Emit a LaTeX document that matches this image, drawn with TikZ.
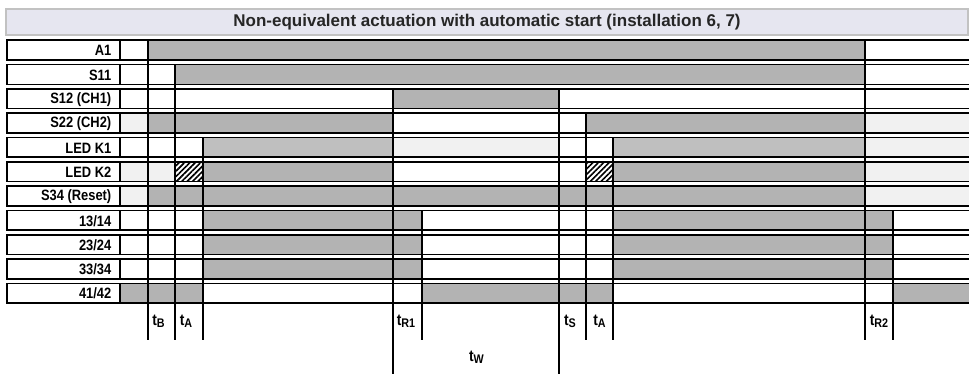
\documentclass[tikz,border=0pt]{standalone}
\usepackage{fontspec}
\setmainfont{Liberation Sans}
\newfontfamily\narrowfont[FakeStretch=0.86]{Liberation Sans}
\usetikzlibrary{patterns.meta}
\definecolor{sigdark}{RGB}{179,179,179}
\definecolor{sigled}{RGB}{191,191,191}
\definecolor{siglight}{RGB}{241,241,241}
\definecolor{titlefill}{RGB}{230,230,240}
\definecolor{titleline}{RGB}{194,194,194}
\newcommand{\tsub}[1]{t\raisebox{-0.12em}{\fontsize{12.5}{13}\selectfont #1}}

\begin{document}
\begin{tikzpicture}[x=1pt, y=-1pt,
    titlebar/.style={draw=titleline, line width=2pt, fill=titlefill, minimum width=962pt, minimum height=26pt, inner sep=0pt, font=\bfseries\fontsize{17}{19}\selectfont, text=black!85},
    rowlabel/.style={anchor=east, inner sep=0pt, font=\narrowfont\bfseries\fontsize{15}{16}\selectfont},
    timelabel/.style={inner sep=0pt, font=\narrowfont\bfseries\fontsize{16}{17}\selectfont},
    rowline/.style={line width=1.6pt},
    hatched/.style={pattern={Lines[angle=45, distance=3.8pt, line width=1.6pt]}}]
    \useasboundingbox (0,0) rectangle (969,374);

    \node[titlebar] (title) at (487,22.5) {Non-equivalent actuation with automatic start (installation 6, 7)};

    % signal levels: row/from/to/colour
    \foreach \r/\a/\b/\c in {0/148/865/sigdark, 1/175/865/sigdark, 2/393/559/sigdark,
        3/120/148/siglight, 3/148/393/sigdark, 3/586/865/sigdark, 3/865/969/siglight,
        4/203/393/sigled, 4/393/559/siglight, 4/613/865/sigled, 4/865/969/siglight,
        5/120/175/siglight, 5/203/393/sigdark, 5/613/865/sigdark, 5/865/969/siglight,
        6/120/148/siglight, 6/148/865/sigdark, 6/865/969/siglight,
        7/203/422/sigdark, 7/613/893/sigdark, 8/203/422/sigdark, 8/613/893/sigdark,
        9/203/422/sigdark, 9/613/893/sigdark,
        10/120/203/sigdark, 10/422/613/sigdark, 10/893/969/sigdark}
        \fill[\c] (\a,{40.3+24.3*\r}) rectangle (\b,{60.1+24.3*\r});
    \fill[hatched] (175,161.8) rectangle (203,181.6);
    \fill[hatched] (586,161.8) rectangle (613,181.6);

    % rows with their names
    \foreach \lab [count=\i from 0, evaluate=\i as \top using 40.3+24.3*\i] in
        {A1, S11, S12 (CH1), S22 (CH2), LED K1, LED K2, S34 (Reset), 13/14, 23/24, 33/34, 41/42} {
        \draw[rowline] (969,\top) -- (7,\top) -- (7,\top+19.8) -- (969,\top+19.8);
        \draw[rowline] (120,\top) -- (120,\top+19.8);
        \node[rowlabel] (lab\i) at (111.5,\top+10.4) {\lab};
    }

    % switching instants: x/first row/lower end
    \foreach \x/\r/\e in {148/0/340, 175/1/340, 203/4/340, 393/2/374, 422/7/340,
        559/2/374, 586/3/340, 613/4/340, 865/0/340, 893/7/340}
        \draw[rowline] (\x,{40.3+24.3*\r}) -- (\x,\e);

    \node[timelabel] (tb) at (158.5,321.5) {\tsub{B}};
    \node[timelabel] (ta1) at (186,321.5) {\tsub{A}};
    \node[timelabel] (tr1) at (406,321.5) {\tsub{R1}};
    \node[timelabel] (ts) at (570,321.5) {\tsub{S}};
    \node[timelabel] (ta2) at (599.5,321.5) {\tsub{A}};
    \node[timelabel] (tr2) at (879,321.5) {\tsub{R2}};
    \node[timelabel] (tw) at (476.5,357.5) {\tsub{W}};
\end{tikzpicture}
\end{document}
